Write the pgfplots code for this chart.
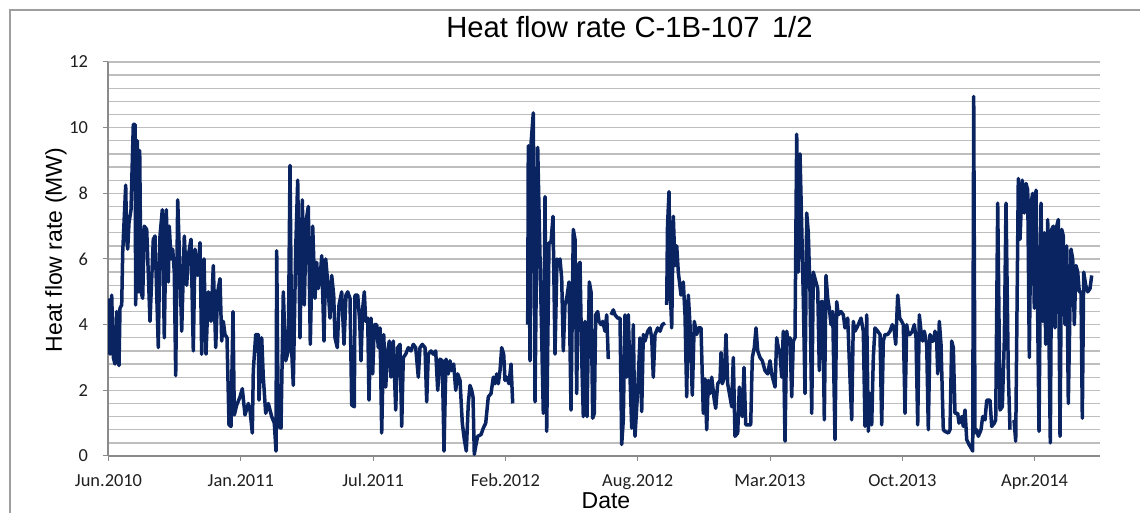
\documentclass[border=0pt]{standalone}
\usepackage{pgfplots}
\pgfplotsset{compat=1.18}
\usepackage{fontspec}
\setmainfont{Liberation Sans}
\newfontfamily\carlito{Carlito}
\definecolor{linec}{HTML}{0A2462}
\definecolor{gridc}{HTML}{BEBEBE}
\definecolor{axc}{HTML}{8A8A8A}
\begin{document}
\begin{tikzpicture}
\useasboundingbox (0,0) rectangle (570pt,256.5pt);
\draw[color=black!38, line width=1pt] (5pt,-3pt) -- (5pt,251.5pt) -- (575pt,251.5pt);
\begin{axis}[
  at={(54pt,28.5pt)}, anchor=south west,
  scale only axis, width=496pt, height=197pt,
  xmin=108, xmax=1100, ymin=0, ymax=12,
  axis x line=bottom, axis y line=left,
  axis line style={axc, line width=0.6pt, -},
  xtick={108.5,240.8,373.1,505.4,637.7,770.0,902.3,1034.6},
  xticklabels={Jun.2010,Jan.2011,Jul.2011,Feb.2012,Aug.2012,Mar.2013,Oct.2013,Apr.2014},
  ytick={0,2,4,6,8,10,12}, minor y tick num=4,
  ymajorgrids, yminorgrids,
  grid style={gridc, line width=0.65pt},
  minor grid style={gridc, line width=0.65pt},
  tick align=outside, major tick length=2.5pt, minor tick length=0pt,
  tick style={axc, line width=0.5pt},
  ticklabel style={font=\carlito\fontsize{9.2}{10}\selectfont, text=black!88},
  xticklabel style={yshift=-3pt},
  yticklabel style={xshift=-4pt},
  /pgf/number format/assume math mode=true,
  title={Heat flow rate C-1B-107\hspace{0.15em} 1/2},
  title style={at={(axis description cs:0.5257,1.0305)}, anchor=base, font=\fontsize{14.6}{16}\selectfont},
  xlabel={Date},
  xlabel style={at={(axis description cs:0.502,-0.132)}, anchor=base, font=\fontsize{11.5}{13}\selectfont},
  ylabel={Heat flow rate (MW)},
  ylabel style={at={(axis description cs:-0.0464,0.5228)}, anchor=base, rotate=0, font=\fontsize{11.5}{13}\selectfont},
  unbounded coords=jump,
]
\addplot[linec, line width=1.75pt, line join=round, mark=none] table[x=x, y=y] {
x y
108.3 4.8
110 3.1
111.7 4.9
113.3 3.0
115 2.8
116.7 4.4
119 2.75
120 4.5
121.7 4.6
122.7 6.2
125.7 8.25
126.7 6.6
127.7 6.3
129 7.1
131 7.5
133.3 10.1
135 10.1
135.7 4.6
137.3 9.6
138.3 5.0
139.7 9.3
141 5.0
142.7 4.8
144.3 7.0
146.7 6.9
150 4.1
153.3 6.6
155 6.7
158.3 3.3
160 6.7
162.3 7.5
164.3 3.6
166.3 7.5
168.3 5.3
169.3 7.0
171 6.0
172.7 6.3
174.3 5.6
175.7 2.45
177.7 7.8
180 5.6
181.7 3.8
184.3 6.7
186.7 5.2
188.3 6.1
191 6.6
193.3 3.2
195 6.3
197.7 5.5
200 6.5
201.7 3.1
204 6.0
206 3.1
208.3 5.0
211 4.1
213.3 5.8
215.7 3.3
217.7 5.0
220 5.4
221.7 3.5
223.3 4.1
225 3.7
227 3.6
229 0.95
231 0.9
233 4.4
234.3 1.25
236.7 1.55
240 1.8
242.3 2.05
245 1.25
248.3 1.6
250 1.4
252.3 0.7
253.3 2.6
255.7 3.7
258.3 3.7
259 1.7
261.7 3.6
263.3 2.4
265.7 1.3
268.3 1.6
271.7 1.2
274.3 1.0
276 0.15
276.7 6.25
278.3 0.9
281 0.85
283.3 5.0
285.7 2.9
288.3 3.2
290 8.85
291.7 3.2
293.3 2.15
295.7 6.3
297.7 8.4
300 3.6
302.3 7.8
304.3 4.6
306.3 7.2
308.3 7.6
310.3 3.4
312.7 7.0
315 4.8
316.7 5.9
318.3 5.1
320.3 5.5
321.7 6.1
324 3.5
325.7 6.0
327.7 5.3
330 4.2
331.7 5.5
333.7 4.9
335 3.6
337.3 3.3
339 4.6
341.7 5.0
344 3.4
346 4.9
347.7 5.0
350 4.8
351.7 1.55
354.3 1.5
355 4.9
357.7 4.9
359.7 4.1
361 2.9
362.7 4.5
364.3 5.0
365.7 4.1
367.7 4.2
369 1.7
371 4.2
372.7 2.5
374.3 4.0
376.7 4.0
378.3 3.3
380 3.9
381.7 0.7
383.7 3.7
385.7 2.1
387.7 3.2
389.3 3.5
391 2.4
393.3 3.5
395.7 1.4
397.7 3.3
400 3.4
401.7 0.9
403.3 3.0
405.7 3.1
408.3 3.3
411 3.2
413.3 3.4
415.7 3.3
418.3 2.4
420 3.3
422.3 3.4
425 3.3
426.7 1.65
428.3 3.1
431 3.2
433.3 3.1
435.7 3.2
437.7 2.0
440 2.95
442.3 2.9
444 0.15
446 2.95
448.3 2.5
450 2.9
451.7 2.6
453.7 2.8
455.7 2.0
457.7 2.5
460 2.3
462.3 1.0
464.3 0.5
466.3 0.15
468.3 1.6
470 2.15
471.7 2.0
473 1.8
474.3 0.05
475.7 0.3
477.7 0.6
481 0.65
483.3 0.85
485.7 1.0
488.3 1.8
491 1.9
493.3 2.4
495 2.2
496.7 2.5
498.3 2.2
500 2.6
501.7 3.3
503.7 3.1
505 2.3
506.7 2.4
509 2.2
511 2.8
512.7 1.6
520 nan
527.7 4.0
528.3 9.45
530 2.9
531 9.5
533.3 10.45
535 1.65
537.7 9.4
539 7.5
543.3 1.3
545 7.9
546.7 0.75
549 6.5
551 6.5
553 7.3
555 3.1
557 6.0
558.3 5.9
560 6.0
561.7 5.4
563.3 3.2
565 4.6
566.7 4.8
569 5.3
571 1.4
573.3 6.9
575 6.6
576.7 1.9
578.3 5.8
580 5.9
581.7 3.0
583.3 1.2
585 4.1
587 1.2
589.3 5.3
591 5.0
592.7 1.15
594.3 1.3
595.7 4.3
597.7 4.4
599 4.1
601 4.0
602.7 4.1
605 3.8
606.7 4.3
608.3 2.95
609.5 nan
611 4.3
613.3 4.45
615 4.3
617.7 4.2
620 4.2
621.7 0.35
623.3 1.1
625 4.3
626.7 2.4
628.3 4.3
630 2.4
631.7 0.85
633.3 4.0
635 0.6
637.7 2.0
640 3.6
641.7 1.35
643.3 3.7
645 3.5
647.7 3.8
650 3.9
651.7 3.6
653.3 2.4
655 3.7
657.7 3.9
660 3.8
662.3 4.0
665 4.05
665.8 nan
666.7 4.6
667.5 7.0
669 8.05
670.3 5.0
671.7 3.9
673.3 7.3
675 5.8
676.7 6.4
678.3 5.6
681 4.9
683.3 5.3
685 4.3
686.7 1.8
688.3 4.9
690 4.0
692.3 1.85
694.3 4.1
696.7 3.7
698.3 3.9
701 3.9
703.3 1.3
705 2.35
706.7 0.8
708.3 2.3
710 1.9
711.7 2.4
714.3 1.7
715.7 1.45
717.7 2.2
720 2.3
721 3.15
722.3 2.2
724.3 2.4
726 3.7
727.7 2.2
730 1.8
731.7 1.5
733.3 3.0
735 0.6
737.7 0.7
739.3 2.1
741 1.7
742.3 1.2
744 2.7
745.7 0.95
748.3 0.95
750.7 0.95
752.3 3.0
754.3 3.3
756 3.9
757.7 3.2
760 3.0
762.3 2.9
765 2.6
767.7 2.5
770 2.9
771.7 2.5
775 2.1
776.7 3.6
778.3 3.3
780 3.1
781.7 2.4
783.3 3.8
785 0.45
786.7 3.8
788.3 3.4
790 3.6
791.7 1.8
793.3 3.5
795 3.6
796.7 9.8
798.3 5.6
800 9.2
801.7 7.0
803.3 4.8
805 1.9
806.7 7.4
808.3 6.8
810 5.0
811.7 1.3
813.3 5.6
815 5.4
817.7 5.1
819.3 2.6
821 4.7
822.7 4.7
824.3 1.1
826 5.5
827.7 4.8
829.3 4.5
831 4.0
832.7 4.4
835 0.5
836.7 4.7
838.3 4.3
841 4.4
843.3 4.3
845 3.9
847.7 4.2
849.3 2.9
851.7 1.1
853.3 4.1
855 3.8
856.7 3.9
858.3 4.0
861 4.2
863.3 3.8
865 0.9
866.7 4.3
868.3 0.75
870 1.9
871.7 0.95
873.3 3.0
875 3.9
877.7 3.8
880 3.7
881.7 0.95
883.3 3.5
885 3.7
887.7 3.7
890 3.8
892.3 4.0
894 3.9
895.7 3.4
897.7 4.9
899.7 4.2
901.7 4.1
903.3 4.0
905 1.3
906.7 4.0
908.3 3.7
910 3.7
912.3 3.8
914.3 4.0
916 3.6
917.7 0.95
919.3 4.3
921 3.8
922.7 3.5
924.3 3.8
926.7 3.4
928.3 0.8
930 3.7
931.7 3.5
933.3 3.5
935 3.8
936.7 3.5
937.7 2.5
939.3 4.1
941 3.4
943.3 0.8
945 0.75
948.3 0.7
950 0.8
951.7 3.5
953.3 3.3
955 1.3
957.7 1.3
959 1.0
961.7 1.2
963.3 0.9
965 1.4
966.7 0.5
969 0.35
971 0.25
972.7 0.15
973.7 10.95
975 0.7
976.7 0.8
978.3 0.6
981 0.8
982.7 1.2
985 1.1
986.7 1.7
990 1.7
991.7 0.9
994.3 1.0
995.7 1.1
997.7 7.7
1000 1.4
1002.3 1.5
1004.3 3.5
1006 7.7
1008.3 2.5
1010 0.8
1012 nan
1014 1.1
1015.7 0.45
1018.3 8.45
1020 6.6
1022.3 8.4
1024.3 7.4
1026 8.3
1027.7 8.1
1029.3 3.0
1031 7.7
1032.7 8.0
1034.3 4.5
1036 8.1
1037.7 4.2
1039 0.75
1041 7.7
1042.7 4.1
1044.3 6.8
1045.7 3.4
1047.7 7.2
1049 3.5
1050.3 0.4
1051.7 6.9
1053.3 7.0
1055 3.9
1056.7 7.0
1058.3 7.2
1060 0.6
1061.7 6.9
1063.3 6.7
1065 4.0
1066.7 6.4
1068.3 1.6
1071 6.3
1072.7 6.0
1074.3 4.0
1076 5.8
1077.7 5.6
1079.3 5.0
1081 5.0
1082.3 1.15
1083.7 5.6
1085.7 5.2
1087.7 5.0
1090 5.1
1091.7 5.5
};
\end{axis}
\end{tikzpicture}
\end{document}
